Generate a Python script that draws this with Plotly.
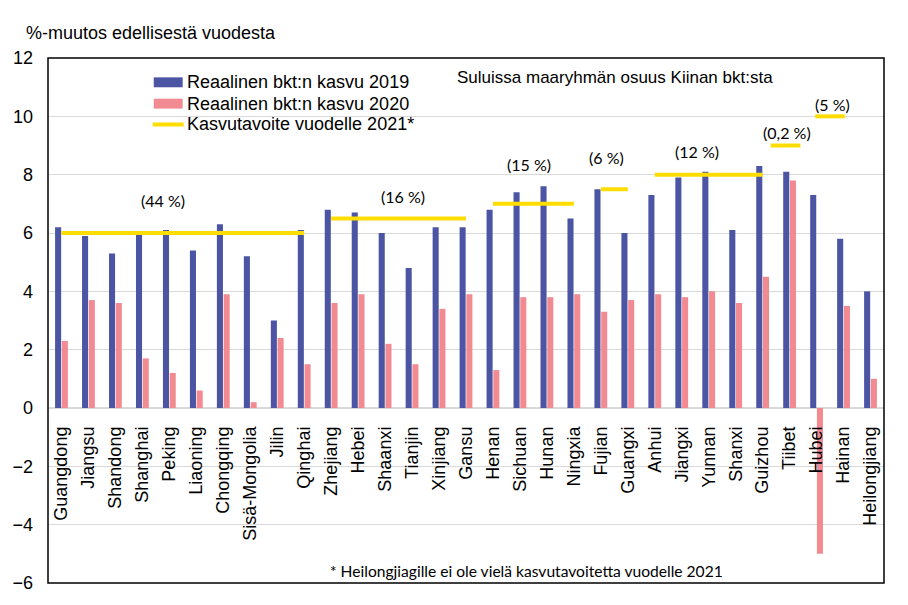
import plotly.graph_objects as go

provinces = ["Guangdong", "Jiangsu", "Shandong", "Shanghai", "Peking", "Liaoning", "Chongqing",
             "Sisä-Mongolia", "Jilin", "Qinghai", "Zhejiang", "Hebei", "Shaanxi", "Tianjin",
             "Xinjiang", "Gansu", "Henan", "Sichuan", "Hunan", "Ningxia", "Fujian", "Guangxi",
             "Anhui", "Jiangxi", "Yunnan", "Shanxi", "Guizhou", "Tiibet", "Hubei", "Hainan",
             "Heilongjiang"]
gdp2019 = [6.2, 5.9, 5.3, 6.0, 6.1, 5.4, 6.3, 5.2, 3.0, 6.1, 6.8, 6.7, 6.0, 4.8, 6.2, 6.2,
           6.8, 7.4, 7.6, 6.5, 7.5, 6.0, 7.3, 7.9, 8.1, 6.1, 8.3, 8.1, 7.3, 5.8, 4.0]
gdp2020 = [2.3, 3.7, 3.6, 1.7, 1.2, 0.6, 3.9, 0.2, 2.4, 1.5, 3.6, 3.9, 2.2, 1.5, 3.4, 3.9,
           1.3, 3.8, 3.8, 3.9, 3.3, 3.7, 3.9, 3.8, 4.0, 3.6, 4.5, 7.8, -5.0, 3.5, 1.0]

# growth targets for 2021 per region group: (start, end) along category axis, value
target_start = [0, 10, 16, 20, 22, 26.3, 27.95]
target_end = [9, 15, 19, 21, 26, 27.4, 29.05]
target_value = [6.0, 6.5, 7.0, 7.5, 8.0, 9.0, 10.0]

# group share of China's GDP labels
share_labels = ["(44 %)", "(16 %)", "(15 %)", "(6 %)", "(12 %)", "(0,2 %)", "(5 %)"]
share_x = [3.75, 12.67, 17.33, 20.22, 23.58, 26.92, 28.58]
share_y = [7.13, 7.26, 8.34, 8.58, 8.79, 9.46, 10.4]

y_ticks = [-6, -4, -2, 0, 2, 4, 6, 8, 10, 12]

series_names = ["Reaalinen bkt:n kasvu 2019", "Reaalinen bkt:n kasvu 2020",
                "Kasvutavoite vuodelle 2021*"]

BLUE = "#4B55A3"
PINK = "#F28B91"
YELLOW = "#FFDD00"
ARIAL = "Liberation Sans, Arial, sans-serif"
CALIBRI = "Lato, Open Sans, sans-serif"

W, H = 908, 605
ML, MR, MT, MB = 46, 24, 58, 18
PW, PH = W - ML - MR, H - MT - MB


def px_x(p):
    return (p - ML) / PW


def px_y(p):
    return (H - MB - p) / PH


idx = list(range(len(provinces)))

fig = go.Figure()
fig.add_trace(go.Bar(x=idx, y=gdp2019, name=series_names[0], showlegend=False,
                     marker=dict(color=BLUE, line=dict(width=0))))
fig.add_trace(go.Bar(x=idx, y=gdp2020, name=series_names[1], showlegend=False,
                     marker=dict(color=PINK, line=dict(width=0))))

lx, ly = [], []
for s, e, v in zip(target_start, target_end, target_value):
    lx += [s, e, None]
    ly += [v, v, None]
fig.add_trace(go.Scatter(x=lx, y=ly, mode="lines", name=series_names[2], showlegend=False,
                         line=dict(color=YELLOW, width=4), connectgaps=False))

for t, x, y in zip(share_labels, share_x, share_y):
    fig.add_annotation(x=x, y=y, text=t, showarrow=False,
                       font=dict(family=CALIBRI, size=16, color="black"))

# manual legend (wide swatches like the original)
leg_rows = [82.5, 104, 125]
fig.add_shape(type="rect", xref="paper", yref="paper", x0=px_x(152), x1=px_x(181),
              y0=px_y(leg_rows[0] + 5), y1=px_y(leg_rows[0] - 5),
              fillcolor=BLUE, line=dict(width=0))
fig.add_shape(type="rect", xref="paper", yref="paper", x0=px_x(152), x1=px_x(181),
              y0=px_y(leg_rows[1] + 5), y1=px_y(leg_rows[1] - 5),
              fillcolor=PINK, line=dict(width=0))
fig.add_shape(type="line", xref="paper", yref="paper", x0=px_x(151), x1=px_x(182),
              y0=px_y(leg_rows[2]), y1=px_y(leg_rows[2]),
              line=dict(color=YELLOW, width=4))
for name, r in zip(series_names, leg_rows):
    fig.add_annotation(xref="paper", yref="paper", x=px_x(183), y=px_y(r), xanchor="left",
                       yanchor="middle", text=name, showarrow=False,
                       font=dict(family=ARIAL, size=18, color="black"))

fig.add_annotation(xref="paper", yref="paper", x=px_x(22), y=px_y(33), xanchor="left",
                   yanchor="middle", text="%-muutos edellisestä vuodesta", showarrow=False,
                   font=dict(family=ARIAL, size=18, color="black"))
fig.add_annotation(xref="paper", yref="paper", x=px_x(454), y=px_y(78), xanchor="left",
                   yanchor="middle", text="Suluissa maaryhmän osuus Kiinan bkt:sta",
                   showarrow=False, font=dict(family=ARIAL, size=17, color="black"))
fig.add_annotation(xref="paper", yref="paper", x=px_x(526), y=px_y(575), xanchor="center",
                   yanchor="middle",
                   text="* Heilongjiagille ei ole vielä kasvutavoitetta vuodelle 2021",
                   showarrow=False, font=dict(family=CALIBRI, size=15.6, color="black"))

fig.add_shape(type="rect", xref="paper", yref="paper", x0=0, x1=1, y0=0, y1=1,
              line=dict(color="black", width=1.5), layer="above")

fig.update_layout(
    width=W, height=H,
    margin=dict(l=ML, r=MR, t=MT, b=MB),
    paper_bgcolor="white", plot_bgcolor="white",
    barmode="group", bargap=0.5, bargroupgap=0.1,
    font=dict(family=ARIAL, size=18, color="black"),
    showlegend=False,
    xaxis=dict(range=[-0.5, len(provinces) - 0.5], tickmode="array", tickvals=idx,
               ticktext=provinces, tickangle=-90, anchor="free", position=6 / 18,
               showgrid=False, zeroline=False, showline=False, ticks="",
               tickfont=dict(family=ARIAL, size=18, color="black"), ticklabelstandoff=14),
    yaxis=dict(range=[-6, 12], tickmode="array", tickvals=y_ticks,
               showgrid=True, gridcolor="#D9D9D9", gridwidth=1,
               zeroline=True, zerolinecolor="#D9D9D9", zerolinewidth=1.5,
               showline=False, ticks="", ticklabelstandoff=14,
               tickfont=dict(family=ARIAL, size=18, color="black")),
)

fig.write_html("out.html")
